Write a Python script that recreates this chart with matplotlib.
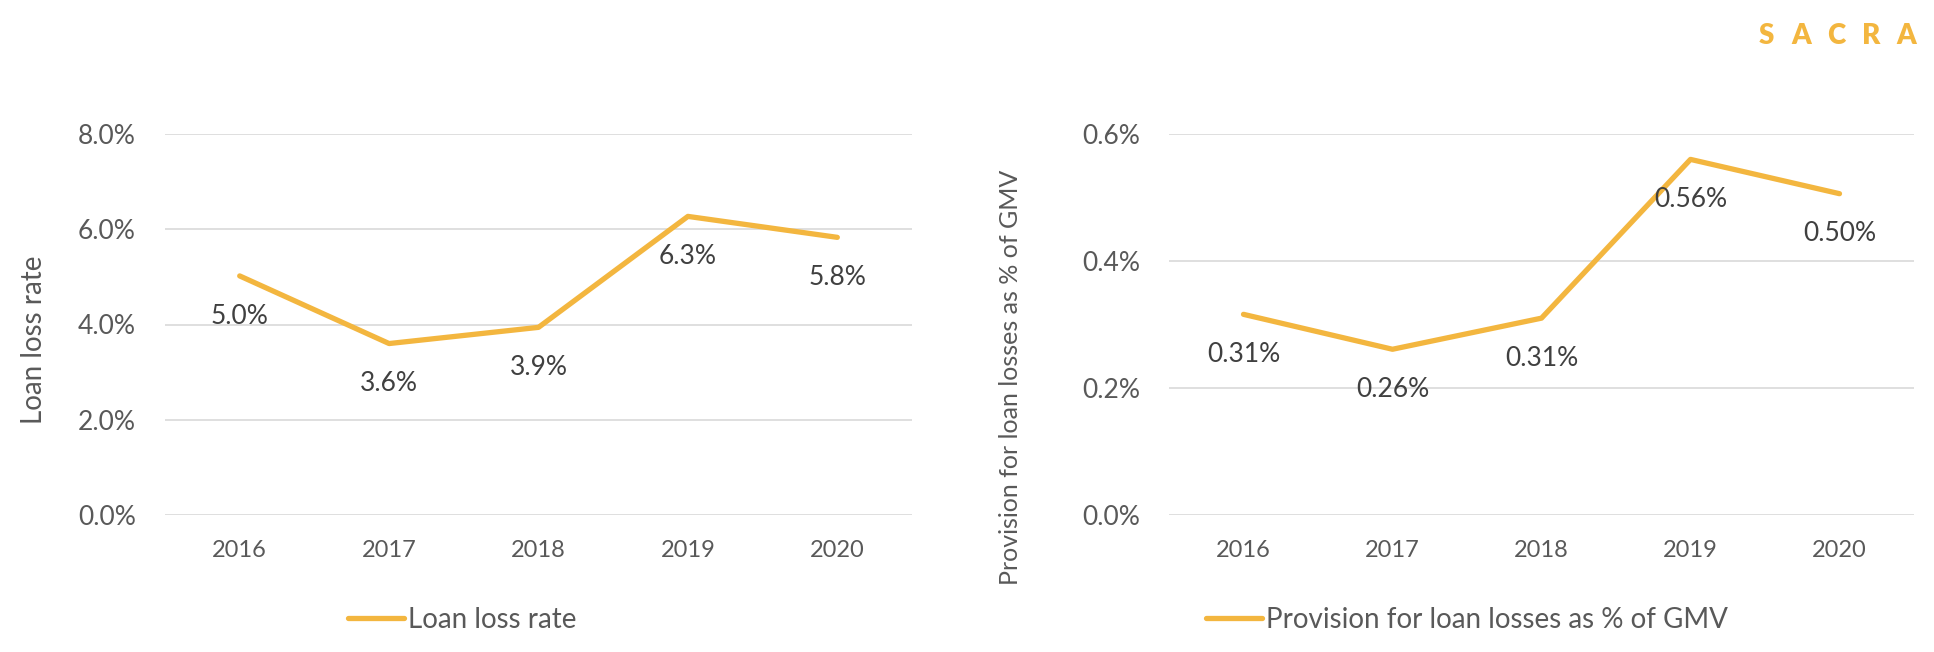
import matplotlib
matplotlib.use("Agg")
from matplotlib import pyplot as plt
from matplotlib.ticker import FuncFormatter

plt.rcParams['font.family'] = ['Lato', 'DejaVu Sans']

years = ['2016', '2017', '2018', '2019', '2020']
loss_rate = [5.02, 3.60, 3.94, 6.27, 5.83]
loss_labels = ['5.0%', '3.6%', '3.9%', '6.3%', '5.8%']
provision = [0.316, 0.261, 0.310, 0.560, 0.506]
provision_labels = ['0.31%', '0.26%', '0.31%', '0.56%', '0.50%']

YELLOW = '#F3B63F'
GRID = '#D9D9D9'
TXT = '#595959'
LBL = '#404040'

W, H = 1934, 652
fig = plt.figure(figsize=(W / 100, H / 100), dpi=100)

def make_ax(x0, x1, y0, y1):
    return fig.add_axes([x0 / W, 1 - y1 / H, (x1 - x0) / W, (y1 - y0) / H])

def style(ax, vals, labels, ymax, step, fmt, ylabel, leg_x, ylabel_size, label_xy):
    x = list(range(len(years)))
    ax.plot(x, vals, color=YELLOW, lw=3.8, solid_capstyle='round', label=ylabel)
    for xi, v, t in zip(x, vals, labels):
        ax.annotate(t, (xi, v), xytext=(0, -29), textcoords='offset points',
                    ha='center', va='center', fontsize=19, color=LBL)
    ax.set_xlim(-0.5, len(years) - 0.5)
    ax.set_ylim(0, ymax)
    ticks = [i * step for i in range(int(round(ymax / step)) + 1)]
    ax.set_yticks(ticks)
    ax.yaxis.set_major_formatter(FuncFormatter(lambda v, p: fmt.format(v)))
    ax.set_xticks(x)
    ax.set_xticklabels(years)
    ax.grid(axis='y', color=GRID, lw=1.2)
    ax.set_axisbelow(True)
    for s in ax.spines.values():
        s.set_visible(False)
    ax.tick_params(axis='y', length=0, pad=21, labelsize=19, labelcolor=TXT)
    ax.tick_params(axis='x', length=0, pad=18, labelsize=17, labelcolor=TXT)
    ax.set_ylabel(ylabel, fontsize=ylabel_size, color=TXT)
    ax.yaxis.set_label_coords(*label_xy)
    fig.legend(handles=ax.get_lines(), loc='center left',
               bbox_to_anchor=(leg_x / W, 1 - 620 / H), frameon=False,
               fontsize=20, handlelength=2.0, handletextpad=0.15,
               borderpad=0, borderaxespad=0, labelcolor=TXT)

ax1 = make_ax(165, 912, 134, 515)
style(ax1, loss_rate, loss_labels, 8, 2, '{:.1f}%', 'Loan loss rate', 348, 20,
      (-0.158, 0.46))

ax2 = make_ax(1169, 1914, 134, 515)
style(ax2, provision, provision_labels, 0.6, 0.2, '{:.1f}%',
      'Provision for loan losses as % of GMV', 1206, 18, (-0.197, 0.36))

for i, ch in enumerate('SACRA'):
    fig.text((1766 + i * 35) / W, 1 - 36 / H, ch, fontsize=20, fontweight='heavy',
             color=YELLOW, ha='center', va='center')

fig.savefig('out.png', dpi=100)
